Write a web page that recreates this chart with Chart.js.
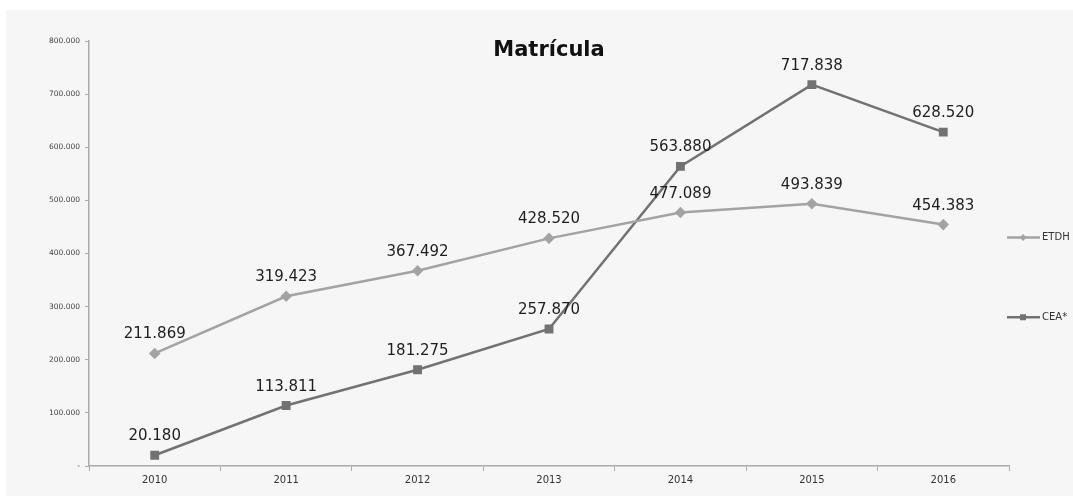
<!DOCTYPE html>
<html>
<head>
<meta charset="utf-8">
<script src="https://cdn.jsdelivr.net/npm/chart.js@4"></script>
<style>
  html, body { margin: 0; padding: 0; background: #fff; }
  #wrap { width: 1073px; height: 496px; }
</style>
</head>
<body>
<div id="wrap"><canvas id="matricula" width="1073" height="496"></canvas></div>
<script>
const years = ['2010', '2011', '2012', '2013', '2014', '2015', '2016'];
const etdh = [211869, 319423, 367492, 428520, 477089, 493839, 454383];
const cea = [20180, 113811, 181275, 257870, 563880, 717838, 628520];
const seriesNames = ['ETDH', 'CEA*'];
const yTicks = [0, 100000, 200000, 300000, 400000, 500000, 600000, 700000, 800000];

const fmt = v => v === 0 ? '-' : v.toLocaleString('de-DE');

// panel, title, value labels and the right-hand legend
const decor = {
  id: 'decor',
  beforeDraw(chart) {
    const ctx = chart.ctx;
    ctx.save();
    ctx.fillStyle = '#f6f6f6';
    ctx.fillRect(6, 10, chart.width - 6, chart.height - 10);
    ctx.restore();
  },
  afterDatasetsDraw(chart) {
    const ctx = chart.ctx;
    ctx.save();
    ctx.font = 'bold 21px "DejaVu Sans"';
    ctx.fillStyle = '#111';
    ctx.textAlign = 'center';
    ctx.textBaseline = 'middle';
    ctx.fillText('Matrícula', 549, 51);

    ctx.font = '15px "DejaVu Sans"';
    ctx.fillStyle = '#1e1e1e';
    ctx.textBaseline = 'alphabetic';
    chart.data.datasets.forEach((ds, i) => {
      chart.getDatasetMeta(i).data.forEach((pt, j) => {
        ctx.fillText(fmt(ds.data[j]), pt.x, pt.y - 15);
      });
    });

    // legend
    const y = chart.scales.y;
    const rows = [y.getPixelForValue(430000), y.getPixelForValue(280000)];
    ctx.font = '10px "DejaVu Sans"';
    ctx.textAlign = 'left';
    ctx.textBaseline = 'middle';
    chart.data.datasets.forEach((ds, i) => {
      const ly = rows[i];
      ctx.strokeStyle = ds.borderColor;
      ctx.lineWidth = 2.5;
      ctx.beginPath();
      ctx.moveTo(1007, ly);
      ctx.lineTo(1040, ly);
      ctx.stroke();
      ctx.fillStyle = ds.borderColor;
      ctx.beginPath();
      if (i === 0) {
        ctx.moveTo(1023, ly - 3.5); ctx.lineTo(1026.5, ly);
        ctx.lineTo(1023, ly + 3.5); ctx.lineTo(1019.5, ly);
        ctx.closePath();
      } else {
        ctx.rect(1020, ly - 3, 6, 6);
      }
      ctx.fill();
      ctx.fillStyle = '#333';
      ctx.fillText(seriesNames[i], 1042, ly);
    });
    ctx.restore();
  }
};

new Chart(document.getElementById('matricula'), {
  type: 'line',
  data: {
    labels: years,
    datasets: [
      { label: seriesNames[0], data: etdh, borderColor: '#a3a3a3', backgroundColor: '#a3a3a3',
        borderWidth: 2.5, pointStyle: 'rectRot', pointRadius: 4, tension: 0 },
      { label: seriesNames[1], data: cea, borderColor: '#727272', backgroundColor: '#727272',
        borderWidth: 2.5, pointStyle: 'rect', pointRadius: 4.5, tension: 0 }
    ]
  },
  options: {
    responsive: false,
    animation: false,
    layout: { padding: { top: 41, right: 64, left: 0, bottom: 0 } },
    plugins: { legend: { display: false }, title: { display: false }, tooltip: { enabled: false } },
    scales: {
      x: {
        offset: true,
        grid: { offset: true, drawOnChartArea: false, drawTicks: true, tickLength: 5, color: '#aaa' },
        border: { color: '#aaa', width: 1.5 },
        ticks: { color: '#333', font: { family: 'DejaVu Sans', size: 10 }, padding: 3 },
        afterFit: s => { s.height = 30; }
      },
      y: {
        min: 0, max: 800000,
        afterBuildTicks: s => { s.ticks = yTicks.map(v => ({ value: v })); },
        grid: { drawOnChartArea: false, drawTicks: true, tickLength: 4, color: '#aaa' },
        border: { color: '#aaa', width: 1.5 },
        ticks: { color: '#444', font: { family: 'DejaVu Sans', size: 7.5 }, padding: 5, callback: v => fmt(v) },
        afterFit: s => { s.width = 89; }
      }
    }
  },
  plugins: [decor]
});
</script>
</body>
</html>
